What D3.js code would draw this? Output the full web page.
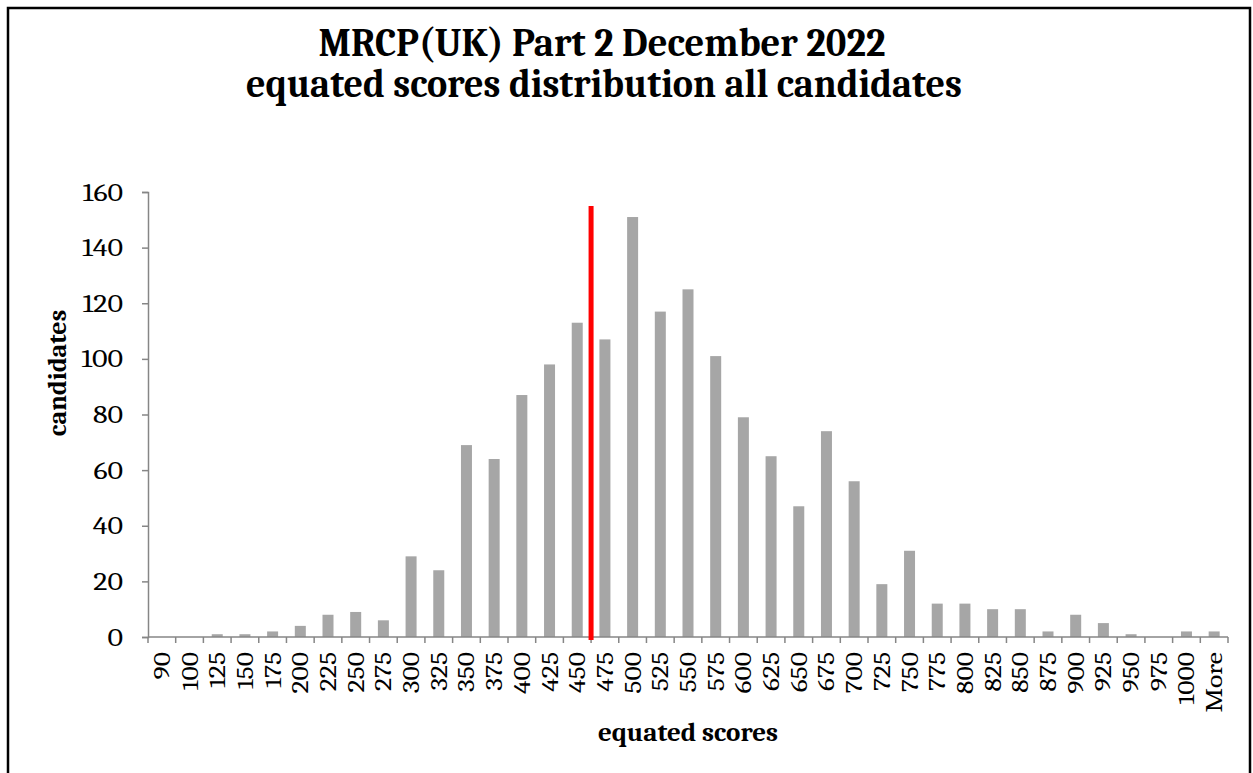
<!DOCTYPE html>
<html>
<head>
<meta charset="utf-8">
<script src="https://cdn.jsdelivr.net/npm/d3@7"></script>
<style>
  body { margin: 0; background: #fff; }
  text { font-family: Cambria, "Liberation Serif", "DejaVu Serif", serif; fill: #000; }
</style>
</head>
<body>
<div id="chart"></div>
<script>
// score bins (upper bound) and candidate counts
const bins = ["90","100","125","150","175","200","225","250","275","300","325","350","375","400",
  "425","450","475","500","525","550","575","600","625","650","675","700","725","750","775",
  "800","825","850","875","900","925","950","975","1000","More"];
const counts = [0,0,1,1,2,4,8,9,6,29,24,69,64,87,98,113,107,151,117,125,101,79,65,47,74,56,19,31,12,
  12,10,10,2,8,5,1,0,2,2];
const yTicks = [0,20,40,60,80,100,120,140,160];
// pass mark line sits between these bins, drawn up to this height
const passBetween = ["450","475"];
const passTop = 155;

const W = 1253, H = 773;
const svg = d3.select("#chart").append("svg")
  .attr("width", W).attr("height", H);

// widen text a little, the source font runs wider than ours
function stretch(sel, k) {
  sel.each(function () {
    const w = this.getComputedTextLength();
    d3.select(this).attr("textLength", w * k).attr("lengthAdjust", "spacingAndGlyphs");
  });
}

// outer frame (bottom edge runs off the picture)
svg.append("rect")
  .attr("x", 8).attr("y", 8).attr("width", 1242).attr("height", H + 10)
  .attr("fill", "white").attr("stroke", "black").attr("stroke-width", 2.5);

const plotLeft = 148, plotRight = 1228, plotTop = 192, plotBottom = 637;

// band scale with no padding: each band is one bin, ticks on band edges
const x = d3.scaleBand().domain(bins).range([plotLeft, plotRight]);
const barW = 11;
const y = d3.scaleLinear().domain([0, 160]).range([plotBottom, plotTop]);

// bars
svg.append("g").selectAll("rect")
  .data(bins)
  .join("rect")
  .attr("x", d => x(d) + (x.bandwidth() - barW) / 2)
  .attr("width", barW)
  .attr("y", (d, i) => y(counts[i]))
  .attr("height", (d, i) => y(0) - y(counts[i]))
  .attr("fill", "#a6a6a6");

// y axis
const yAxis = svg.append("g")
  .attr("transform", `translate(${plotLeft},0)`)
  .call(d3.axisLeft(y).tickValues(yTicks).tickSize(6).tickPadding(19));
yAxis.selectAll("path, line").attr("stroke", "#868686").attr("stroke-width", 1.5);
yAxis.selectAll("text").attr("font-size", 25).attr("font-family", null).call(stretch, 1.2);

// x axis: ticks at bin boundaries
const edges = bins.map(d => x(d)).concat([plotRight]);
const xg = svg.append("g");
xg.append("line")
  .attr("x1", plotLeft).attr("x2", plotRight).attr("y1", plotBottom).attr("y2", plotBottom)
  .attr("stroke", "#868686").attr("stroke-width", 1.5);
xg.selectAll("line.tick")
  .data(edges)
  .join("line")
  .attr("class", "tick")
  .attr("x1", d => d).attr("x2", d => d)
  .attr("y1", plotBottom).attr("y2", plotBottom + 6)
  .attr("stroke", "#868686").attr("stroke-width", 1.5);
xg.selectAll("text")
  .data(bins)
  .join("text")
  .attr("transform", d => `translate(${x(d) + x.bandwidth() / 2 + 8},${plotBottom + 15}) rotate(-90)`)
  .attr("text-anchor", "end")
  .attr("font-size", 23)
  .text(d => d)
  .call(stretch, 1.2);

// pass mark
const passX = x(passBetween[1]);
svg.append("line")
  .attr("x1", passX).attr("x2", passX)
  .attr("y1", y(passTop)).attr("y2", plotBottom + 3)
  .attr("stroke", "red").attr("stroke-width", 5);

// titles
svg.append("text")
  .attr("x", 602).attr("y", 56)
  .attr("text-anchor", "middle").attr("font-weight", "bold").attr("font-size", 40)
  .attr("textLength", 567).attr("lengthAdjust", "spacingAndGlyphs")
  .text("MRCP(UK) Part 2 December 2022");
svg.append("text")
  .attr("x", 604).attr("y", 97)
  .attr("text-anchor", "middle").attr("font-weight", "bold").attr("font-size", 40)
  .attr("textLength", 716).attr("lengthAdjust", "spacingAndGlyphs")
  .text("equated scores distribution all candidates");

svg.append("text")
  .attr("x", 688).attr("y", 741)
  .attr("text-anchor", "middle").attr("font-weight", "bold").attr("font-size", 27)
  .text("equated scores");
svg.append("text")
  .attr("transform", "translate(66,373) rotate(-90)")
  .attr("text-anchor", "middle").attr("font-weight", "bold").attr("font-size", 26)
  .text("candidates");
</script>
</body>
</html>
